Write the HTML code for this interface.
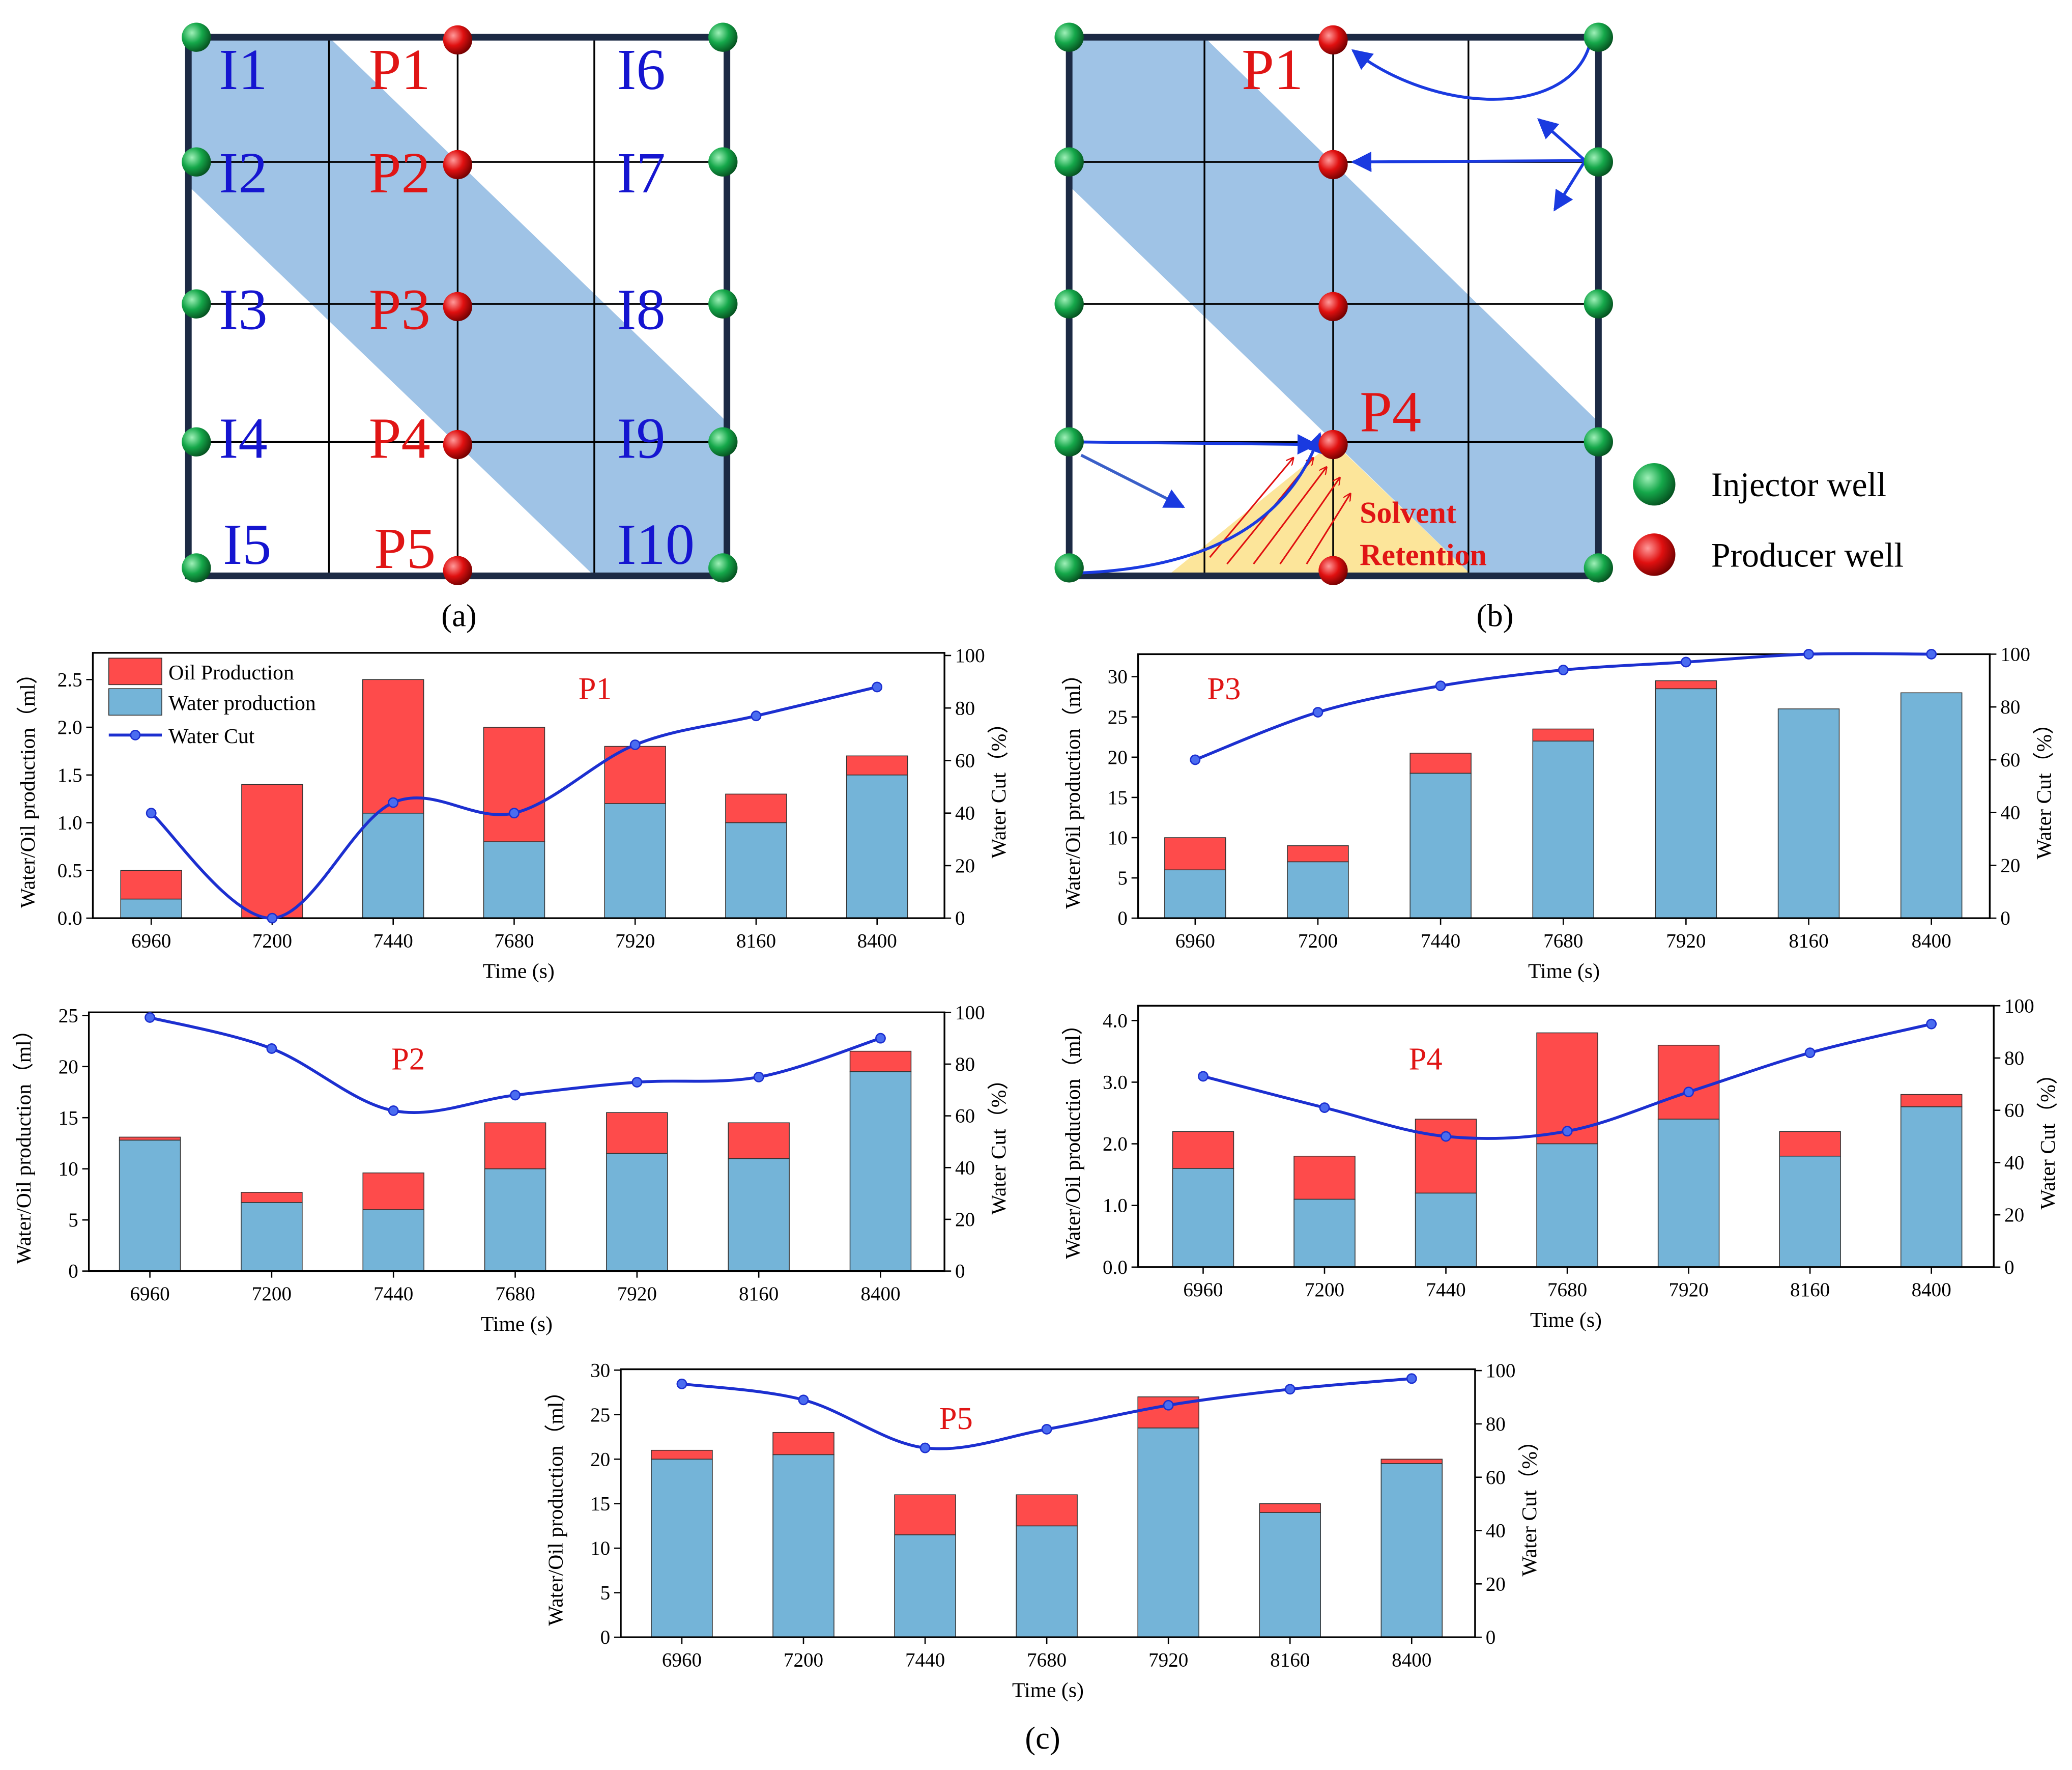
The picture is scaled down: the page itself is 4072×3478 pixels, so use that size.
<!DOCTYPE html>
<html><head><meta charset="utf-8"><style>html,body{margin:0;padding:0;background:#fff}svg{display:block}</style></head>
<body>
<svg id="root" xmlns="http://www.w3.org/2000/svg" width="4072" height="3478" viewBox="0 0 1562 1334" font-family="'Liberation Serif', serif">
<defs>
<radialGradient id="gG" cx="0.35" cy="0.35" r="0.7"><stop offset="0" stop-color="#9ff0b8"/><stop offset="0.5" stop-color="#15a84a"/><stop offset="1" stop-color="#05501f"/></radialGradient>
<radialGradient id="gR" cx="0.35" cy="0.35" r="0.7"><stop offset="0" stop-color="#ff9a9a"/><stop offset="0.5" stop-color="#e01010"/><stop offset="1" stop-color="#700000"/></radialGradient>
<marker id="ah" viewBox="0 0 10 10" refX="9" refY="5" markerWidth="7" markerHeight="7" orient="auto"><path d="M0,0L10,5L0,10z" fill="#1a3ae0"/></marker>
<marker id="ahr" viewBox="0 0 10 10" refX="9" refY="5" markerWidth="5" markerHeight="5" orient="auto"><path d="M0,0L10,5L0,10" fill="none" stroke="#e01010" stroke-width="1.5"/></marker>
</defs>

<g>
<polygon points="142,28 248,28 548,318 548,434 448,434 142,140" fill="#9fc3e6"/>
<g stroke="#000" stroke-width="1.3">
<line x1="248" y1="28" x2="248" y2="434"/><line x1="345" y1="28" x2="345" y2="434"/><line x1="448" y1="28" x2="448" y2="434"/>
<line x1="142" y1="122" x2="548" y2="122"/><line x1="142" y1="229" x2="548" y2="229"/><line x1="142" y1="333" x2="548" y2="333"/>
</g>
<rect x="142" y="28" width="406" height="406" fill="none" stroke="#1c2a44" stroke-width="5"/>
<g font-size="44" fill="#1515d0">
<text x="165" y="67">I1</text><text x="165" y="145">I2</text><text x="165" y="248">I3</text><text x="165" y="345">I4</text><text x="168" y="425">I5</text>
<text x="465" y="67">I6</text><text x="465" y="145">I7</text><text x="465" y="248">I8</text><text x="465" y="345">I9</text><text x="465" y="425">I10</text>
</g>
<g font-size="44" fill="#e01515">
<text x="278" y="67">P1</text><text x="278" y="145">P2</text><text x="278" y="248">P3</text><text x="278" y="345">P4</text><text x="282" y="428">P5</text>
</g>
<g id="wellsA"></g>
<text x="346" y="472" font-size="24" text-anchor="middle">(a)</text>
</g>

<g>
<polygon points="806,28 908,28 1205,318 1205,434 1110,434 806,140" fill="#9fc3e6"/>
<polygon points="880,434 1005,333 1110,434" fill="#fce59a"/>
<g stroke="#000" stroke-width="1.3">
<line x1="908" y1="28" x2="908" y2="434"/><line x1="1005" y1="28" x2="1005" y2="434"/><line x1="1107" y1="28" x2="1107" y2="434"/>
<line x1="806" y1="122" x2="1205" y2="122"/><line x1="806" y1="229" x2="1205" y2="229"/><line x1="806" y1="333" x2="1205" y2="333"/>
</g>
<rect x="806" y="28" width="399" height="406" fill="none" stroke="#1c2a44" stroke-width="5"/>
<g stroke="#e01010" stroke-width="1.2" fill="none">
<line x1="925" y1="425" x2="990" y2="345" marker-end="url(#ahr)"/>
<line x1="945" y1="425" x2="1000" y2="352" marker-end="url(#ahr)"/>
<line x1="965" y1="425" x2="1010" y2="360" marker-end="url(#ahr)"/>
<line x1="985" y1="425" x2="1018" y2="372" marker-end="url(#ahr)"/>
<line x1="912" y1="420" x2="975" y2="345" marker-end="url(#ahr)"/>
</g>
<g stroke="#1a3ae0" stroke-width="2.2" fill="none">
<path d="M1198,35 C1180,90 1080,85 1020,38" marker-end="url(#ah)"/>
<line x1="1195" y1="121" x2="1020" y2="122" marker-end="url(#ah)"/>
<line x1="1195" y1="121" x2="1160" y2="90" marker-end="url(#ah)"/>
<line x1="1195" y1="121" x2="1172" y2="158" marker-end="url(#ah)"/>
<line x1="806" y1="333" x2="992" y2="335" marker-end="url(#ah)"/>
<line x1="815" y1="343" x2="892" y2="382" stroke="#3a5fc8" marker-end="url(#ah)"/>
<path d="M806,432 C900,430 970,400 995,327" marker-end="url(#ah)"/>
</g>
<text x="936" y="67" font-size="44" fill="#e01515">P1</text>
<text x="1025" y="325" font-size="44" fill="#e01515">P4</text>
<text x="1025" y="394" font-size="23" font-weight="bold" fill="#e01515">Solvent</text>
<text x="1025" y="426" font-size="23" font-weight="bold" fill="#e01515">Retention</text>
<g id="wellsB"></g>
<circle cx="1247" cy="365" r="16" fill="url(#gG)"/>
<text x="1290" y="374" font-size="26">Injector well</text>
<circle cx="1247" cy="418" r="16" fill="url(#gR)"/>
<text x="1290" y="427" font-size="26">Producer well</text>
<text x="1127" y="472" font-size="24" text-anchor="middle">(b)</text>
</g>

<g id="charts"></g>
<text x="786" y="1318" font-size="24" text-anchor="middle">(c)</text>
</svg>
<script>
const categories = [6960, 7200, 7440, 7680, 7920, 8160, 8400];
const p1Water = [0.2, 0, 1.1, 0.8, 1.2, 1.0, 1.5];
const p1Total = [0.5, 1.4, 2.5, 2.0, 1.8, 1.3, 1.7];
const p1Cut = [40, 0, 44, 40, 66, 77, 88];
const p1Ticks = ["0.0", "0.5", "1.0", "1.5", "2.0", "2.5"];
const p2Water = [12.8, 6.7, 6, 10, 11.5, 11, 19.5];
const p2Total = [13.1, 7.7, 9.6, 14.5, 15.5, 14.5, 21.5];
const p2Cut = [98, 86, 62, 68, 73, 75, 90];
const p2Ticks = [0, 5, 10, 15, 20, 25];
const p3Water = [6, 7, 18, 22, 28.5, 26, 28];
const p3Total = [10, 9, 20.5, 23.5, 29.5, 26, 28];
const p3Cut = [60, 78, 88, 94, 97, 100, 100];
const p3Ticks = [0, 5, 10, 15, 20, 25, 30];
const p4Water = [1.6, 1.1, 1.2, 2.0, 2.4, 1.8, 2.6];
const p4Total = [2.2, 1.8, 2.4, 3.8, 3.6, 2.2, 2.8];
const p4Cut = [73, 61, 50, 52, 67, 82, 93];
const p4Ticks = ["0.0", "1.0", "2.0", "3.0", "4.0"];
const p5Water = [20, 20.5, 11.5, 12.5, 23.5, 14, 19.5];
const p5Total = [21, 23, 16, 16, 27, 15, 20];
const p5Cut = [95, 89, 71, 78, 87, 93, 97];
const p5Ticks = [0, 5, 10, 15, 20, 25, 30];
const cutTicks = [0, 20, 40, 60, 80, 100];

const NS = "http://www.w3.org/2000/svg";
function mk(tag, attrs, parent, txt) {
  const e = document.createElementNS(NS, tag);
  for (const k in attrs) e.setAttribute(k, attrs[k]);
  if (txt !== undefined) e.textContent = txt;
  parent.appendChild(e);
  return e;
}
function wells(gid, xs, xsR) {
  const g = document.getElementById(gid);
  const ys = [28, 122, 229, 333, 428];
  ys.forEach(y => {
    xs.forEach(x => {
      const c = mk("circle", {cx: x, cy: y, r: 11, fill: "url(#gG)"}, g);
      
      
    });
    const r = mk("circle", {cx: xsR, cy: y + 2, r: 11, fill: "url(#gR)"}, g);
    
    
  });
}
wells("wellsA", [148, 545], 345);
wells("wellsB", [806, 1205], 1005);

function chart(cfg) {
  const root = document.getElementById("charts");
  const g = mk("g", {}, root);
  
  
  const {x0, x1, y0, y1, c0, dx, ymax} = cfg;
  const yS = v => y1 - (v / ymax) * (y1 - y0);
  const yC = v => y1 - (v / 100) * (y1 - cfg.cTop);
  const xS = i => c0 + i * dx;
  const bw = 46;
  cfg.total.forEach((t, i) => {
    const w = cfg.water[i];
    if (t > w) {
      const r = mk("rect", {x: xS(i) - bw / 2, y: yS(t), width: bw, height: yS(w) - yS(t), fill: "#fe4b4b", stroke: "#333", "stroke-width": 0.6}, g);
      
      
    }
    if (w > 0) {
      const b = mk("rect", {x: xS(i) - bw / 2, y: yS(w), width: bw, height: y1 - yS(w), fill: "#74b4d8", stroke: "#333", "stroke-width": 0.6}, g);
      
      
    }
  });
  const box = mk("rect", {x: x0, y: y0, width: x1 - x0, height: y1 - y0, fill: "none", stroke: "#000", "stroke-width": 1.3}, g);
  
  
  cfg.ticks.forEach(t => {
    const y = yS(parseFloat(t));
    mk("line", {x1: x0 - 5, y1: y, x2: x0, y2: y, stroke: "#000"}, g);
    const tl = mk("text", {x: x0 - 8, y: y + 5, "font-size": 15, "text-anchor": "end"}, g, t);
    
    
  });
  cutTicks.forEach(t => {
    const y = yC(t);
    mk("line", {x1: x1, y1: y, x2: x1 + 5, y2: y, stroke: "#000"}, g);
    const tl = mk("text", {x: x1 + 8, y: y + 5, "font-size": 15}, g, t);
    
    
  });
  categories.forEach((c, i) => {
    mk("line", {x1: xS(i), y1: y1, x2: xS(i), y2: y1 + 5, stroke: "#000"}, g);
    const tl = mk("text", {x: xS(i), y: y1 + 22, "font-size": 15, "text-anchor": "middle"}, g, c);
    
    
  });
  const xt = mk("text", {x: (x0 + x1) / 2, y: y1 + 45, "font-size": 16, "text-anchor": "middle"}, g, "Time (s)");
  
  
  const yt = mk("text", {x: 0, y: 0, "font-size": 16, "text-anchor": "middle", transform: `translate(${x0 - 44},${(y0 + y1) / 2}) rotate(-90)`}, g, "Water/Oil production（ml）");
  
  
  const y2t = mk("text", {x: 0, y: 0, "font-size": 16, "text-anchor": "middle", transform: `translate(${x1 + 46},${(y0 + y1) / 2}) rotate(-90)`}, g, "Water Cut（%）");
  
  
  const pts = cfg.cut.map((v, i) => [xS(i), yC(v)]);
  let d = `M${pts[0][0]},${pts[0][1]}`;
  for (let i = 0; i < pts.length - 1; i++) {
    const p0 = pts[Math.max(0, i - 1)], p1 = pts[i], p2 = pts[i + 1], p3 = pts[Math.min(pts.length - 1, i + 2)];
    const c1 = [p1[0] + (p2[0] - p0[0]) / 6, p1[1] + (p2[1] - p0[1]) / 6];
    const c2 = [p2[0] - (p3[0] - p1[0]) / 6, p2[1] - (p3[1] - p1[1]) / 6];
    d += ` C${c1[0]},${c1[1]} ${c2[0]},${c2[1]} ${p2[0]},${p2[1]}`;
  }
  const ln = mk("path", {d: d, fill: "none", stroke: "#1c2fd0", "stroke-width": 2.2}, g);
  
  
  pts.forEach(p => {
    const c = mk("circle", {cx: p[0], cy: p[1], r: 3.5, fill: "#4a6cf0", stroke: "#1c2fd0", "stroke-width": 1}, g);
    
    
  });
  const tt = mk("text", {x: cfg.tx, y: cfg.ty, "font-size": 24, fill: "#e01515"}, g, cfg.name);
  
  
  if (cfg.legend) {
    const lg = mk("g", {}, g);
    
    
    mk("rect", {x: 82, y: 496, width: 40, height: 20, fill: "#fe4b4b", stroke: "#333", "stroke-width": 0.6}, lg);
    const a = mk("text", {x: 127, y: 512, "font-size": 16}, lg, "Oil Production");
    
    
    mk("rect", {x: 82, y: 519, width: 40, height: 20, fill: "#74b4d8", stroke: "#333", "stroke-width": 0.6}, lg);
    const b = mk("text", {x: 127, y: 535, "font-size": 16}, lg, "Water production");
    
    
    mk("line", {x1: 82, y1: 554, x2: 122, y2: 554, stroke: "#1c2fd0", "stroke-width": 2.2}, lg);
    mk("circle", {cx: 102, cy: 554, r: 3.5, fill: "#4a6cf0", stroke: "#1c2fd0"}, lg);
    const c = mk("text", {x: 127, y: 560, "font-size": 16}, lg, "Water Cut");
    
    
  }
}
chart({name: "P1", x0: 70, x1: 712, y0: 492, y1: 692, cTop: 494, c0: 114, dx: 91.2, ymax: 2.78, ticks: p1Ticks, water: p1Water, total: p1Total, cut: p1Cut, tx: 436, ty: 527, legend: true});
chart({name: "P3", x0: 858, x1: 1500, y0: 493, y1: 692, cTop: 493, c0: 901, dx: 92.5, ymax: 32.8, ticks: p3Ticks, water: p3Water, total: p3Total, cut: p3Cut, tx: 910, ty: 527});
chart({name: "P2", x0: 67, x1: 712, y0: 763, y1: 958, cTop: 763, c0: 113, dx: 91.8, ymax: 25.3, ticks: p2Ticks, water: p2Water, total: p2Total, cut: p2Cut, tx: 295, ty: 806});
chart({name: "P4", x0: 858, x1: 1503, y0: 758, y1: 955, cTop: 758, c0: 907, dx: 91.5, ymax: 4.24, ticks: p4Ticks, water: p4Water, total: p4Total, cut: p4Cut, tx: 1062, ty: 806});
chart({name: "P5", x0: 468, x1: 1112, y0: 1032, y1: 1234, cTop: 1033, c0: 514, dx: 91.7, ymax: 30.1, ticks: p5Ticks, water: p5Water, total: p5Total, cut: p5Cut, tx: 708, ty: 1077});
</script>
</body></html>
